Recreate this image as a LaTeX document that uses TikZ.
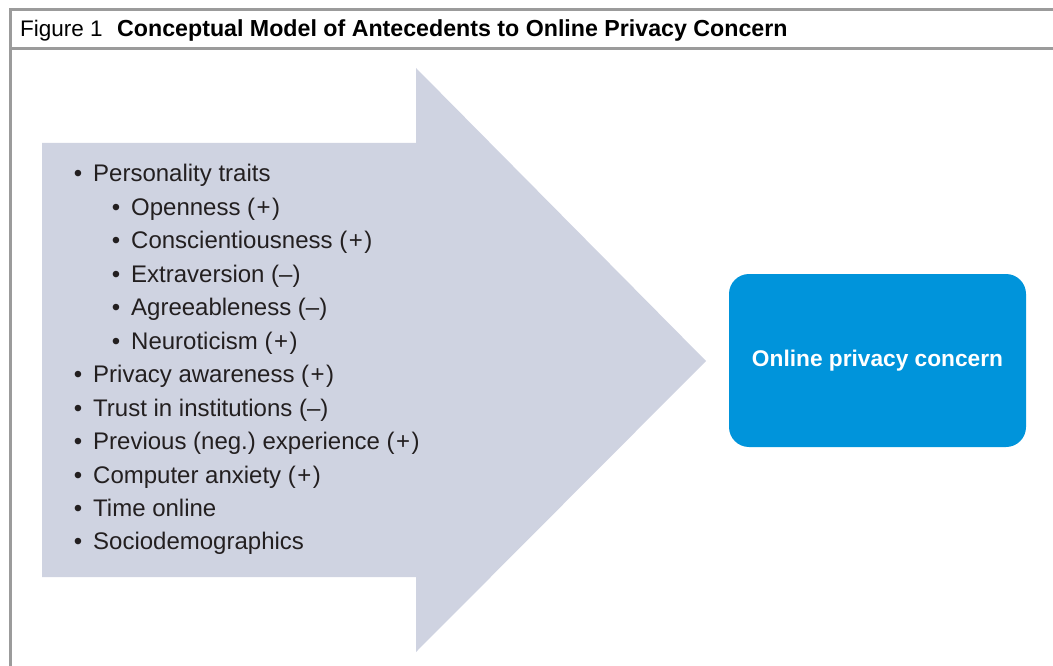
\documentclass[tikz,border=0pt]{standalone}
\usepackage{fontspec}
\setmainfont{Liberation Sans}
\frenchspacing
\definecolor{arrowfill}{HTML}{CFD3E1}
\definecolor{boxblue}{HTML}{0094DB}
\definecolor{framegray}{HTML}{9B9B9B}
\definecolor{textdark}{HTML}{231F20}
\newcommand{\pl}{\kern1.5pt+\kern1.5pt}
\tikzset{
  frameline/.style={draw=framegray, line width=3pt},
  item/.style={anchor=base west, inner sep=0pt, text=textdark, font=\fontsize{24}{28}\selectfont},
  bul/.style={anchor=base, inner sep=0pt, text=textdark, font=\fontsize{24}{28}\selectfont},
  target/.style={fill=boxblue, rounded corners=20pt, inner sep=0pt, text=white,
    font=\fontsize{22.7}{26}\selectfont\bfseries},
}
\begin{document}
\begin{tikzpicture}[x=1pt,y=-1pt]
\useasboundingbox (0,0) rectangle (1053,666);
% frame
\coordinate (tl) at (10.5,9.5);
\coordinate (tr) at (1053,9.5);
\coordinate (bl) at (10.5,666);
\coordinate (sl) at (10.5,48.5);
\coordinate (sr) at (1053,48.5);
\draw[frameline] (tr) -- (tl) -- (bl);
\draw[frameline] (sl) -- (sr);
% header
\node[anchor=base west, inner sep=0pt, font=\fontsize{22.5}{26}\selectfont] (fig) at (20,37) {Figure 1};
\node[anchor=base west, inner sep=0pt, font=\fontsize{23.2}{26}\selectfont\bfseries] (title) at (117,37) {Conceptual Model of Antecedents to Online Privacy Concern};
% arrow
\fill[arrowfill] (42,143) -- (416,143) -- (416,68) -- (706,361) -- (416,652) -- (416,577) -- (42,577) -- cycle;
% target box
\node[target, minimum width=297pt, minimum height=173pt] (oc) at (877.5,360.5) {Online privacy concern};
% list
\def\Lx{93}\def\Lb{78}
\def\Mx{131}\def\Mb{116}
\foreach \i/\lvl/\t in {0/1/Personality traits,
  1/2/Openness (\pl),
  2/2/Conscientiousness (\pl),
  3/2/Extraversion (–),
  4/2/Agreeableness (–),
  5/2/Neuroticism (\pl),
  6/1/Privacy awareness (\pl),
  7/1/Trust in institutions (–),
  8/1/Previous (neg.) experience (\pl),
  9/1/Computer anxiety (\pl),
  10/1/Time online,
  11/1/Sociodemographics}{
  \pgfmathsetmacro{\yy}{182+33.45*\i}
  \ifnum\lvl=1
    \node[bul] (b\i) at (\Lb,\yy) {•};
    \node[item] (t\i) at (\Lx,\yy) {\t};
  \else
    \node[bul] (b\i) at (\Mb,\yy) {•};
    \node[item] (t\i) at (\Mx,\yy) {\t};
  \fi
}
\end{tikzpicture}
\end{document}
